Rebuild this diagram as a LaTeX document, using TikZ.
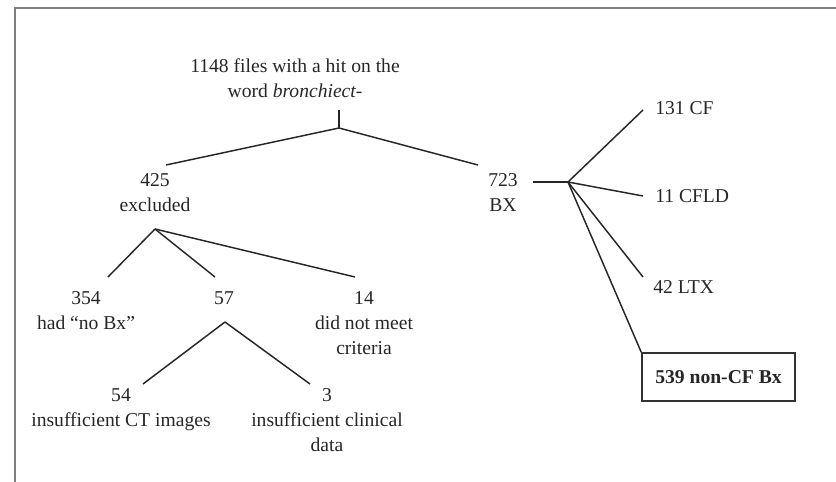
\documentclass[tikz,border=0pt]{standalone}
\usepackage{fontspec}
\setmainfont{Liberation Serif}
\usetikzlibrary{arrows}

\begin{document}
\begin{tikzpicture}[x=0.75pt,y=-0.75pt]
            \tikzstyle{edge}=[draw=black!85,line width=1.1pt,-]
            \tikzstyle{frame}=[draw=black!50,line width=1.1pt]
            \tikzstyle{txt}=[inner sep=0pt,align=center,text=black!85,font=\fontsize{14.7pt}{18.75pt}\selectfont]
            \tikzstyle{result}=[txt,draw=black!80,line width=1.1pt,minimum width=114.75pt,minimum height=36pt,font=\fontsize{14.7pt}{18.75pt}\selectfont\bfseries]

            \useasboundingbox (0,0) rectangle (836,482);
            \path[frame] (15,482) -- (15,8) -- (836,8);

            \node[txt,anchor=north] (files) at (295,58.6) {1148 files with a hit on the\\word \textit{bronchiect-}};
            \node[txt,anchor=north] (x425) at (155,173.6) {425\\excluded};
            \node[txt,anchor=north] (x723) at (503,173.6) {723\\BX};

            \node[txt,anchor=north west] (cf)   at (655,101.6) {131 CF};
            \node[txt,anchor=north west] (cfld) at (655,189.6) {11 CFLD};
            \node[txt,anchor=north west] (ltx)  at (653,280.6) {42 LTX};
            \node[result] (noncf) at (718.5,377) {539 non-CF Bx};

            \node[txt,anchor=north] (x354) at (86,291.6)  {354\\had “no Bx”};
            \node[txt,anchor=north] (x57)  at (224,291.6) {57};
            \node[txt,anchor=north] (x14)  at (364,291.6) {14\\did not meet\\criteria};
            \node[txt,anchor=north] (x54)  at (121,388.6) {54\\insufficient CT images};
            \node[txt,anchor=north] (x3)   at (327,388.6) {3\\insufficient clinical\\data};

            % junctions and line ends
            \coordinate (stem)  at (339,110);
            \coordinate (split) at (339,128);
            \coordinate (e425)  at (166,165);
            \coordinate (e723)  at (478,165);
            \coordinate (bx0)   at (533,182);
            \coordinate (bxhub) at (568,182);
            \coordinate (ecf)   at (643,110);
            \coordinate (ecfld) at (643,196);
            \coordinate (eltx)  at (643,277);
            \coordinate (exhub) at (155,229);
            \coordinate (e354)  at (108,277);
            \coordinate (e57)   at (215,277);
            \coordinate (e14)   at (355,277);
            \coordinate (hub57) at (225,322);
            \coordinate (e54)   at (143,384);
            \coordinate (e3)    at (310,384);

            \path[edge] (stem) -- (split);
            \path[edge] (split) -- (e425);
            \path[edge] (split) -- (e723);

            \path[edge] (bx0) -- (bxhub);
            \path[edge] (bxhub) -- (ecf);
            \path[edge] (bxhub) -- (ecfld);
            \path[edge] (bxhub) -- (eltx);
            \path[edge] (bxhub) -- (noncf.north west);

            \path[edge] (exhub) -- (e354);
            \path[edge] (exhub) -- (e57);
            \path[edge] (exhub) -- (e14);

            \path[edge] (hub57) -- (e54);
            \path[edge] (hub57) -- (e3);
        \end{tikzpicture}
\end{document}
